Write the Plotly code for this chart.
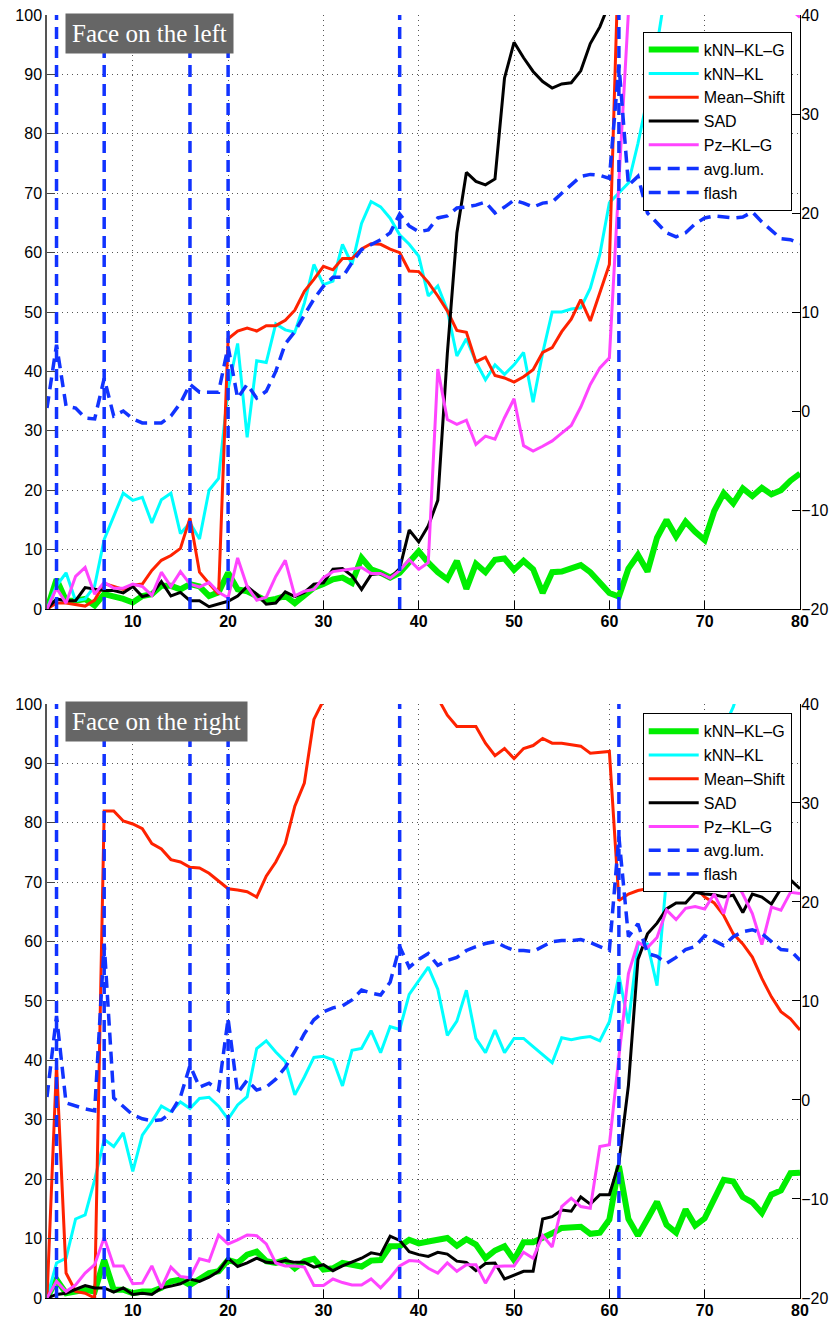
import plotly.graph_objects as go

frames = list(range(1, 81))
flash_frames = [2, 7, 16, 20, 38, 61]
x_ticks = [10, 20, 30, 40, 50, 60, 70, 80]
left_ticks = list(range(0, 101, 10))
right_ticks = list(range(-20, 41, 10))
left_range = [0, 100]
right_range = [-20, 40]

# ---------------- Face on the left (top panel) ----------------
knn_kl_g_left = [0, 5, 1.4, 1.4, 1.7, 0.6, 2.5, 2.2, 1.7, 1.1, 2.2, 2.5, 3.9, 3.9, 3.3, 4.2, 3.8, 2.2, 2.8, 6.1,
                 3.3, 3, 2.2, 1.4, 1.7, 2.2, 1, 2.2, 3.6, 4.2, 5, 5.3, 4.4, 8.6, 6.7, 6.1, 5.3, 6.1, 8, 9.7,
                 7.8, 6.2, 5, 8.1, 3.4, 7.6, 6.2, 8.3, 8.5, 6.6, 8.1, 6.7, 2.7, 6.2, 6.3, 6.8, 7.4, 6.2, 4.5, 2.7,
                 2.1, 6.8, 9.1, 6.3, 12, 15, 12.2, 14.7, 13, 11.6, 16.5, 19.5, 17.8, 20.3, 19, 20.4, 19.3, 20, 21.6, 22.8]
knn_kl_left = [0, 3.9, 6.1, 1.4, 1.7, 3.9, 11.7, 15.5, 19.5, 18.3, 18.8, 14.5, 18.4, 19.5, 12.7, 14.5, 11.8, 20, 22, 37,
               44.7, 28.9, 41.8, 41.5, 48, 47, 46.6, 51.5, 58, 54.6, 55.2, 61.4, 58, 64.9, 68.6, 67.7, 65.8, 63, 61.4, 59.4,
               52.7, 54.4, 50.3, 42.6, 45.5, 41.6, 38.6, 41.1, 39.5, 41.1, 43.2, 34.8, 43.1, 50, 50, 50.5, 50.7, 54, 59.7, 68.4,
               70, 71.7, 78.4, 86, 95, 105, 110, 110, 110, 110, 110, 110, 110, 110, 110, 110, 110, 110, 110, 110]
mean_shift_left = [0, 1, 1, 0.7, 0.5, 1.5, 4.3, 3.8, 3.3, 4, 4.2, 6.5, 8.2, 9, 10.2, 15.3, 6.2, 4.3, 2.5, 45.5,
                   46.8, 47.3, 46.8, 47.7, 47.7, 48.6, 50.3, 53.5, 55.5, 57.7, 57.1, 59, 59, 60.6, 61.5, 61.4, 60.6, 60, 56.9, 56.8,
                   55, 52.7, 50.2, 46.9, 46.6, 41.6, 42.4, 39.3, 38.9, 38.2, 39.1, 40.3, 43.2, 44, 46.7, 48.8, 52.1, 48.5, 53.3, 58,
                   112, 112, 112, 112, 112, 112, 112, 112, 112, 112, 112, 112, 112, 112, 112, 112, 112, 112, 112, 112]
sad_left = [0, 1.7, 1.4, 1.4, 3.6, 3.3, 3.1, 3.1, 2.7, 3.8, 2.1, 2.5, 4.6, 2.2, 2.8, 1.4, 1.4, 0.4, 0.8, 1.3,
            2.2, 3.8, 2.5, 0.8, 1, 2.9, 2.1, 2.8, 4.2, 4.4, 6.7, 6.8, 5.6, 3.3, 5.8, 6, 5.2, 6.8, 13.3, 11.3,
            14, 18.3, 43, 63.3, 73.5, 72, 71.4, 72.4, 89.4, 95.4, 92.8, 90.5, 88.8, 87.7, 88.4, 88.6, 90.6, 95.2, 98, 102,
            110, 110, 110, 110, 110, 110, 110, 110, 110, 110, 110, 110, 110, 110, 110, 110, 110, 110, 110, 110]
pz_kl_g_left = [0, 3.5, 1, 5.5, 7, 2.5, 4.5, 3.5, 3.5, 4.2, 3.8, 2.3, 6.2, 3.8, 6.3, 4.2, 3.7, 4.5, 2.8, 1.9,
                8.6, 3.8, 1.5, 2, 5.5, 8.2, 2.2, 3, 3.3, 5.3, 6.3, 6.5, 6.7, 7, 6, 6, 5.2, 6.5, 8.3, 6.7,
                7.8, 40.4, 31.9, 31.1, 31.8, 27.7, 29.1, 28.6, 32.2, 35.4, 27.5, 26.6, 27.4, 28.3, 29.6, 30.9, 34, 37.8, 40.6, 42.3,
                72, 100.5, 110, 110, 110, 110, 110, 110, 110, 110, 110, 110, 110, 110, 110, 110, 110, 110, 101, 99.6]
avg_lum_left = [0.3, 6.7, 0.5, 0.3, -0.7, -0.8, 3.3, -0.5, 0, -0.8, -1.2, -1.2, -1.2, -0.5, 0.8, 2.7, 1.9, 1.9, 1.9, 6.5,
                1.3, 2.7, 1.3, 2, 4, 6.8, 8, 9.7, 11.3, 12.6, 13.5, 13.5, 15, 16.3, 16.8, 17.3, 18, 19.9, 18.7, 18.1,
                18.3, 19.5, 19.7, 20.5, 20.6, 20.8, 21.1, 20, 20.6, 21.3, 21, 20.6, 21, 21.1, 22, 22.8, 23.7, 23.9, 23.8, 23.5,
                35, 22.8, 23.7, 20, 19, 18, 17.6, 18, 18.9, 19.5, 19.7, 19.6, 19.5, 19.6, 20.1, 19.1, 18.3, 17.4, 17.3, 16.9]

# ---------------- Face on the right (bottom panel) ----------------
knn_kl_g_right = [0, 3.1, 0.8, 1.1, 1.4, 1.1, 6.4, 1.4, 1.4, 0.8, 1.1, 1.1, 1.7, 2.8, 3.1, 2.2, 3.1, 4.2, 4.5, 6.4,
                  5.9, 7.3, 7.8, 6.2, 5.9, 6.4, 5, 6.2, 6.6, 4.8, 5, 5.9, 5.6, 5.3, 6.3, 6.4, 8.7, 8.7, 9.8, 9.2,
                  9.5, 9.8, 10.1, 8.8, 9.9, 9, 6.7, 8, 8.7, 6.4, 9.4, 9.4, 10.1, 10.9, 11.8, 11.8, 12, 10.8, 11, 13.2,
                  22.2, 13.3, 10.5, 13.3, 16.2, 12.3, 11, 14.9, 12.2, 13.4, 16.8, 19.9, 19.6, 17, 16.1, 14.3, 17.4, 18.1, 21, 21.1]
knn_kl_right = [0, 5.9, 6.7, 13.3, 14, 19.9, 26.7, 25.5, 27.8, 21.3, 27.4, 29.7, 32.3, 31.4, 33, 31.9, 33.6, 33.8, 32.3, 30.1,
                32.5, 33.9, 42, 43.3, 41.4, 39.8, 34.2, 37.2, 40.5, 40.7, 40.1, 35.7, 41.7, 42, 45, 41.3, 45.7, 45.2, 51.1, 53.5,
                55.7, 52, 44.2, 46.6, 51.8, 43.7, 41.3, 45.1, 41.3, 43.7, 43.7, 42.3, 40.9, 39.6, 43.8, 43.5, 43.8, 44, 43.3, 46.5,
                54.3, 46.2, 59.6, 59.6, 52.6, 70.8, 76, 80, 84, 88, 92, 96, 99.5, 105, 110, 110, 110, 110, 110, 110]
mean_shift_right = [0, 39.2, 4.2, 1.1, 0.8, 0, 82, 82, 80.3, 79.8, 79, 76.5, 75.6, 73.8, 73.4, 72.5, 72.4, 71.5, 70.2, 68.9,
                    68.7, 68.4, 67.5, 71, 73.4, 76.5, 82.8, 86.7, 97.4, 100.6, 110, 110, 110, 110, 110, 110, 110, 110, 110, 110,
                    110, 101, 98.1, 96.2, 96.2, 96.2, 93.4, 91.3, 92.5, 90.8, 92.5, 93, 94.2, 93.4, 93.4, 93.1, 92.9, 91.7, 91.9, 92,
                    66.9, 68, 68.6, 68.9, 70.3, 71.7, 71.9, 71.1, 69.2, 67.5, 66.5, 64.4, 61.3, 59.6, 57.4, 53.8, 50.7, 48.2, 47, 45.1]
sad_right = [0, 0.6, 0.8, 1.4, 2.1, 1.7, 1.7, 1, 1.7, 0.6, 0.8, 0.6, 1.7, 2, 2.4, 3.2, 2.8, 3.5, 4.5, 6.7,
             5.3, 5.9, 6.7, 6, 5.9, 6.3, 6, 6, 5.2, 5.6, 4.6, 5.4, 6, 6.7, 7.6, 7.3, 10.4, 9.7, 7.8, 7.3,
             7, 7.7, 7.4, 6.2, 6, 4.6, 5.8, 5.9, 3.2, 3.8, 4.5, 4.5, 13.3, 13.7, 14.8, 14.6, 17, 15.8, 17.4, 17.4,
             22.7, 35.8, 57, 61.3, 63.1, 65.5, 66.5, 66.5, 68.3, 68, 67.9, 67.5, 67.8, 64.9, 68, 67.5, 66.3, 68.9, 70.4, 68.9]
pz_kl_g_right = [0, 2.8, 1.1, 2.2, 4.2, 5.6, 10.2, 5.4, 5.4, 2.4, 2.5, 5.4, 1.7, 5.2, 3.6, 3.4, 6.6, 6.2, 10.6, 9.1,
                 9.8, 10.6, 10.5, 9.1, 5.9, 5.4, 5.4, 5.2, 2.1, 2.1, 3.2, 2.6, 2.2, 2.2, 3.2, 1.7, 3.4, 5.4, 6.3, 6.2,
                 5, 4.2, 5.9, 4.5, 5.6, 5.6, 2.5, 5.3, 5.4, 5.4, 7.7, 6.7, 10.5, 8.6, 15.4, 16.8, 15.4, 15.1, 25.5, 25.8,
                 40.6, 54.6, 59.9, 59, 60.7, 65.3, 63.7, 65.6, 65.9, 65.5, 68, 64.7, 70.8, 68, 64.7, 59.5, 65.8, 65.3, 68.3, 68.1]
avg_lum_right = [0.3, 8.5, -0.3, -0.6, -0.9, -1.1, 15.8, 0.2, -0.6, -1.5, -1.9, -2.1, -2, -1.3, 0.3, 3.5, 1.3, 1.7, 1, 8.2,
                 0.7, 2, 1, 1.3, 2.1, 3.3, 4.9, 6.7, 8.1, 8.9, 9.3, 9.5, 10.1, 11.1, 10.8, 10.6, 11.9, 15.5, 13.4, 14.2,
                 14.8, 13.6, 14.1, 14.4, 15.1, 15.5, 15.8, 16, 15.5, 15.1, 15.1, 15, 15.5, 16, 16.1, 16.1, 16.2, 15.9, 15.5, 15.1,
                 26.6, 16.5, 17.8, 14.8, 14.5, 13.8, 14.4, 15.2, 15.5, 16.6, 16.1, 15.6, 16.5, 17, 17.2, 16.8, 16, 15.2, 15.1, 14.1]

series_names = ["kNN–KL–G", "kNN–KL", "Mean–Shift", "SAD", "Pz–KL–G"]
series_colors = ["#00ee00", "#00ffff", "#ff2200", "#000000", "#ff44ff"]
series_widths = [6, 3, 3, 3, 3]
BLUE = "#1133ff"
DASH = "12px,7px"

panels = [
    dict(series=[knn_kl_g_left, knn_kl_left, mean_shift_left, sad_left, pz_kl_g_left], avg=avg_lum_left,
         x="x", y="y", y2="y2", legend="legend"),
    dict(series=[knn_kl_g_right, knn_kl_right, mean_shift_right, sad_right, pz_kl_g_right], avg=avg_lum_right,
         x="x2", y="y3", y2="y4", legend="legend2"),
]

fig = go.Figure()
for p in panels:
    for name, vals, col, w in zip(series_names, p["series"], series_colors, series_widths):
        fig.add_trace(go.Scatter(x=frames, y=vals, mode="lines", name=name,
                                 line=dict(color=col, width=w),
                                 xaxis=p["x"], yaxis=p["y"], legend=p["legend"]))
    fig.add_trace(go.Scatter(x=frames, y=p["avg"], mode="lines", name="avg.lum.",
                             line=dict(color=BLUE, width=3.5, dash=DASH),
                             xaxis=p["x"], yaxis=p["y2"], legend=p["legend"]))
    fx, fy = [], []
    for f in flash_frames:
        fx += [f, f, None]
        fy += [right_range[0], right_range[1], None]
    fig.add_trace(go.Scatter(x=fx, y=fy, mode="lines", name="flash",
                             line=dict(color=BLUE, width=3.5, dash=DASH),
                             xaxis=p["x"], yaxis=p["y2"], legend=p["legend"]))

FONT = "Liberation Sans, Arial, Helvetica, sans-serif"
grid = dict(showgrid=True, gridcolor="#555555", gridwidth=1, griddash="1px,4px")

def xax(anchor):
    return dict(anchor=anchor, domain=[0, 1], range=[1, 80], tickvals=x_ticks, automargin=False,
                ticklabeloverflow="allow", ticklabelstandoff=-2,
                ticks="inside", ticklen=8, tickcolor="black", showline=True, linecolor="black",
                linewidth=1, zeroline=False, tickfont=dict(size=16, family=FONT, color="black", weight="bold"),
                **grid)

def yl(anchor, dom):
    return dict(anchor=anchor, domain=dom, range=left_range, tickvals=left_ticks, automargin=False,
                ticklabeloverflow="allow",
                ticks="inside", ticklen=8, tickcolor="#444", showline=True, linecolor="#555555",
                linewidth=1.5, zeroline=False, tickfont=dict(size=16, family=FONT, color="black"), **grid)

def yr(anchor, over):
    return dict(anchor=anchor, overlaying=over, side="right", range=right_range, tickvals=right_ticks,
                automargin=False, ticklabeloverflow="allow", ticklabelstandoff=-3,
                ticks="inside", ticklen=8, tickcolor="black", showline=True, linecolor="black",
                linewidth=1, zeroline=False, showgrid=False,
                tickfont=dict(size=16, family=FONT, color="black"))

top_dom = [0.537, 1.0]
bot_dom = [0.0, 0.463]

legend_style = dict(xref="paper", yref="paper", x=0.989, xanchor="right", yanchor="top",
                    bgcolor="white", bordercolor="black", borderwidth=1, itemwidth=50,
                    font=dict(size=16, family=FONT, color="black"), tracegroupgap=0)

# the page body adds an 8px offset, so the figure is 8px smaller and left/top margins 8px tighter
fig.update_layout(
    width=830, height=1311,
    margin=dict(l=39, r=38, t=7, b=21),
    paper_bgcolor="white", plot_bgcolor="white",
    xaxis=xax("y"), xaxis2=xax("y3"),
    yaxis=yl("x", top_dom), yaxis2=yr("x", "y"),
    yaxis3=yl("x2", bot_dom), yaxis4=yr("x2", "y3"),
    legend=dict(y=0.987, **legend_style),
    legend2=dict(y=0.4557, **legend_style),
    showlegend=True,
    annotations=[
        dict(text="Face on the left", xref="paper", yref="paper", x=0.024, y=1.0016,
             xanchor="left", yanchor="top", showarrow=False, bgcolor="#666666", borderpad=6,
             font=dict(size=25, family="Liberation Serif, serif", color="white")),
        dict(text="Face on the right", xref="paper", yref="paper", x=0.024, y=0.4653,
             xanchor="left", yanchor="top", showarrow=False, bgcolor="#666666", borderpad=6,
             font=dict(size=25, family="Liberation Serif, serif", color="white")),
    ],
)

fig.write_html("out.html")
